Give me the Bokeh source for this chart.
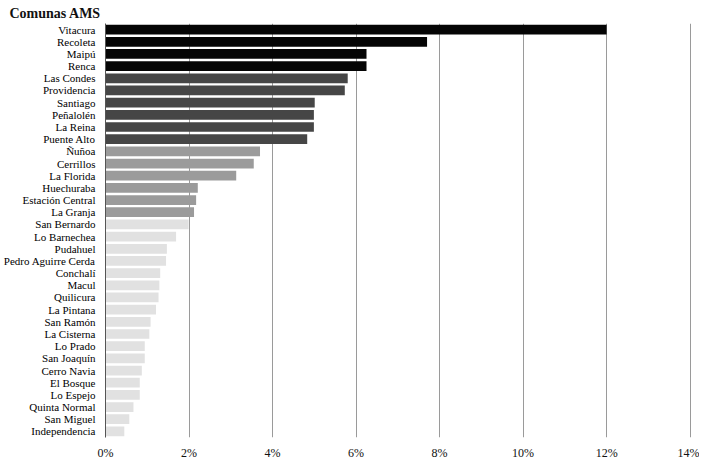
from bokeh.plotting import figure
from bokeh.models import FixedTicker, PrintfTickFormatter, ColumnDataSource, FactorRange
from bokeh.embed import file_html
from bokeh.resources import INLINE

comunas = ["Vitacura", "Recoleta", "Maipú", "Renca", "Las Condes", "Providencia",
           "Santiago", "Peñalolén", "La Reina", "Puente Alto", "Ñuñoa", "Cerrillos",
           "La Florida", "Huechuraba", "Estación Central", "La Granja", "San Bernardo",
           "Lo Barnechea", "Pudahuel", "Pedro Aguirre Cerda", "Conchalí", "Macul",
           "Quilicura", "La Pintana", "San Ramón", "La Cisterna", "Lo Prado",
           "San Joaquín", "Cerro Navia", "El Bosque", "Lo Espejo", "Quinta Normal",
           "San Miguel", "Independencia"]
valores = [12.0, 7.70, 6.25, 6.25, 5.80, 5.73, 5.01, 4.99, 4.99, 4.83, 3.70, 3.55,
           3.13, 2.21, 2.17, 2.12, 1.99, 1.69, 1.47, 1.45, 1.31, 1.29, 1.27, 1.21,
           1.08, 1.05, 0.94, 0.94, 0.87, 0.82, 0.82, 0.67, 0.57, 0.45]
grupos = [0]*4 + [1]*6 + [2]*6 + [3]*18
paleta = ["#050505", "#464646", "#9b9b9b", "#e1e1e1"]
ticks = [0, 2, 4, 6, 8, 10, 12, 14]

src = ColumnDataSource(dict(c=comunas, v=valores, col=[paleta[g] for g in grupos]))

p = figure(y_range=FactorRange(factors=list(reversed(comunas))), x_range=(0, 14.2),
           frame_width=593, frame_height=414, output_backend="svg",
           toolbar_location=None, min_border_left=10, min_border_right=1,
           min_border_top=15, min_border_bottom=5)

p.hbar(y="c", right="v", left=0, height=0.8, color="col", line_color=None, source=src)

p.title.text = "Comunas AMS"
p.title.text_font = "Liberation Serif"
p.title.text_font_size = "14px"
p.title.text_font_style = "bold"
p.title.text_color = "#111111"
p.title.align = "left"
p.title.offset = -96
p.title.standoff = 6

p.outline_line_color = None
p.ygrid.grid_line_color = None
p.xgrid.ticker = FixedTicker(ticks=ticks)
p.xgrid.grid_line_color = "#9a9a9a"
p.xgrid.grid_line_width = 1

p.xaxis.ticker = FixedTicker(ticks=ticks)
p.xaxis.formatter = PrintfTickFormatter(format="%d%%")
p.xaxis.axis_line_color = None
p.xaxis.major_tick_line_color = None
p.xaxis.minor_tick_line_color = None
p.xaxis.major_label_standoff = 2
p.xaxis.major_label_text_font = "Liberation Serif"
p.xaxis.major_label_text_font_size = "12px"
p.xaxis.major_label_text_color = "#111111"

p.yaxis.axis_line_color = "#555555"
p.yaxis.major_tick_line_color = None
p.yaxis.minor_tick_line_color = None
p.yaxis.major_label_standoff = 4
p.yaxis.major_label_text_font = "Liberation Serif"
p.yaxis.major_label_text_font_size = "11px"
p.yaxis.major_label_text_color = "#000000"

open("out.html", "w").write(file_html(p, INLINE))
